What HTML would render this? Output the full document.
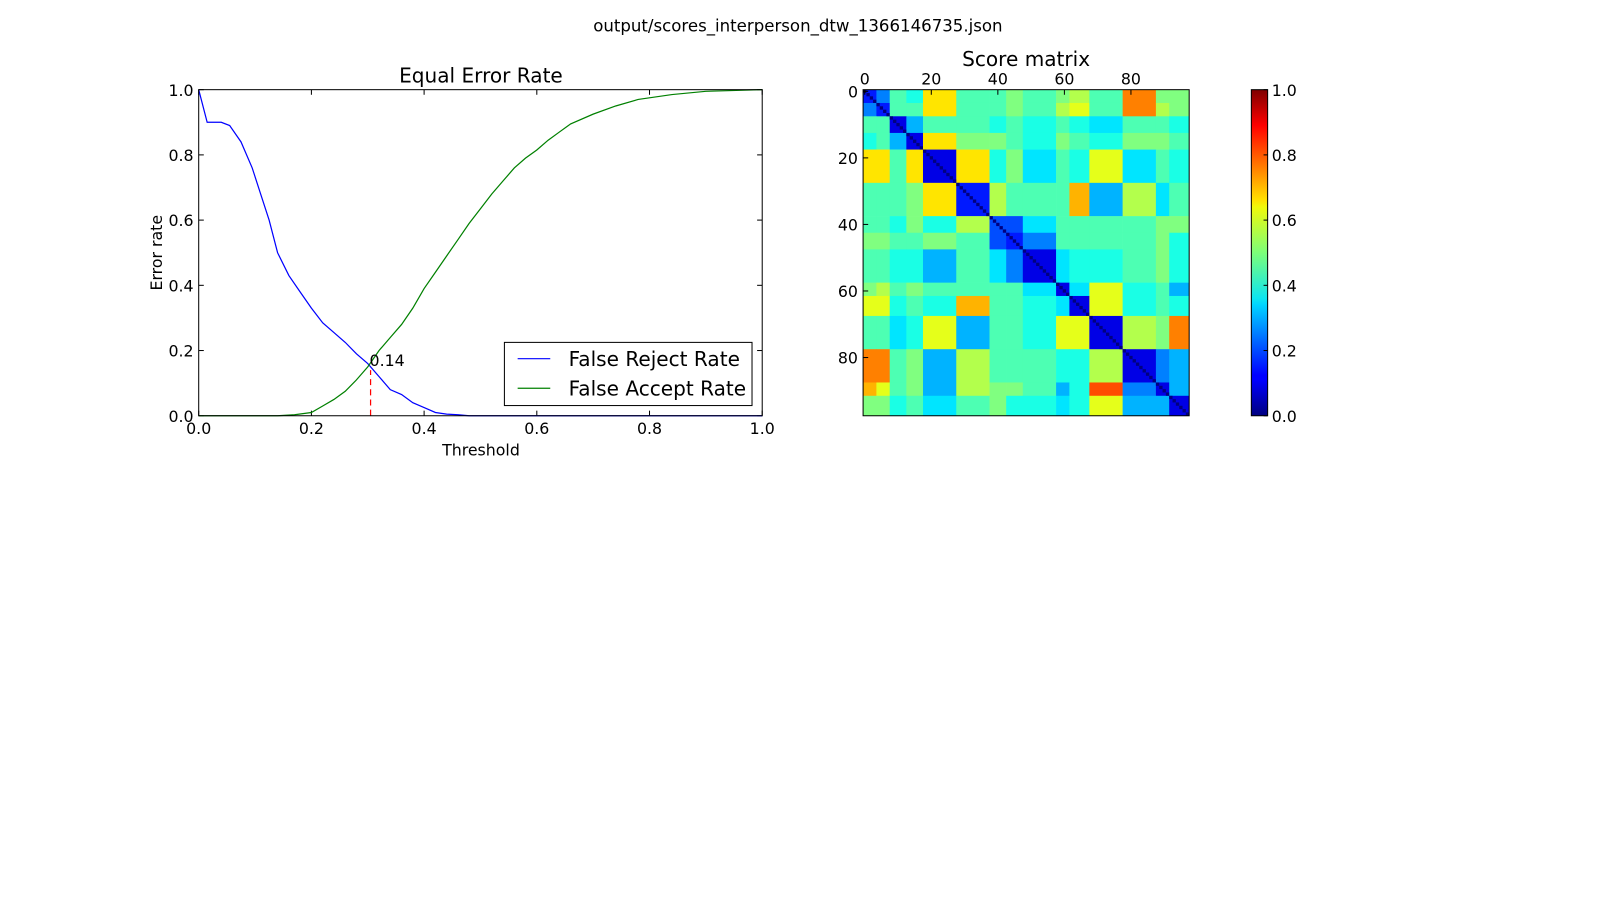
<!DOCTYPE html>
<html><head><meta charset="utf-8"><style>
body{margin:0;background:#fff;}
svg text{font-family:"DejaVu Sans","Liberation Sans",sans-serif;fill:#000;}
</style></head><body>
<svg width="1600" height="900" xmlns="http://www.w3.org/2000/svg">
<defs><linearGradient id="jet" x1="0" y1="1" x2="0" y2="0">
<stop offset="0" stop-color="#00007f"/><stop offset="0.11" stop-color="#0000ff"/><stop offset="0.125" stop-color="#0000ff"/><stop offset="0.34" stop-color="#00d4ff"/><stop offset="0.36" stop-color="#0de5f0"/><stop offset="0.5" stop-color="#7cff79"/><stop offset="0.64" stop-color="#f0f90a"/><stop offset="0.66" stop-color="#ffe200"/><stop offset="0.89" stop-color="#ff0000"/><stop offset="1" stop-color="#7f0000"/>
</linearGradient></defs>
<g transform="scale(1.019)">
<text x="783" y="31" text-anchor="middle" font-size="16.3">output/scores_interperson_dtw_1366146735.json</text>
<g id="left"></g>
<g id="right"></g>
<g id="cbar"></g>
</g>
</svg>
<script>
const thrTicks=[0,0.2,0.4,0.6,0.8,1.0];
const tickLabels=["0.0","0.2","0.4","0.6","0.8","1.0"];
const frrX=[0,0.015,0.04,0.055,0.075,0.095,0.11,0.125,0.14,0.16,0.18,0.2,0.22,0.24,0.26,0.28,0.3,0.32,0.34,0.36,0.38,0.4,0.42,0.44,0.46,0.48,1];
const frrY=[1,0.9,0.9,0.89,0.84,0.76,0.68,0.6,0.5,0.43,0.38,0.33,0.285,0.255,0.225,0.19,0.16,0.12,0.08,0.065,0.04,0.025,0.01,0.005,0.003,0,0];
const farX=[0,0.14,0.17,0.2,0.22,0.24,0.26,0.28,0.3,0.32,0.34,0.36,0.38,0.4,0.42,0.44,0.46,0.48,0.5,0.52,0.54,0.56,0.58,0.6,0.62,0.64,0.66,0.7,0.74,0.78,0.84,0.9,1];
const farY=[0,0,0.003,0.01,0.03,0.05,0.075,0.11,0.15,0.2,0.24,0.28,0.33,0.39,0.44,0.49,0.54,0.59,0.635,0.68,0.72,0.76,0.79,0.815,0.845,0.87,0.895,0.925,0.95,0.97,0.985,0.995,1];
const eerX=0.305, eerY=0.14;
const groupBounds=[0,4,8,13,18,28,38,43,48,58,62,68,78,88,92,98];
const blockVals=[
[.15,.25,.45,.4,.65,.45,.45,.5,.45,.5,.55,.45,.75,.5,.5],
[.25,.15,.45,.45,.65,.45,.45,.5,.45,.55,.6,.45,.75,.55,.5],
[.45,.45,.1,.3,.45,.45,.4,.45,.4,.45,.4,.35,.45,.45,.4],
[.4,.45,.3,.1,.65,.5,.5,.45,.4,.5,.45,.4,.5,.5,.45],
[.65,.65,.45,.65,.1,.65,.4,.5,.35,.45,.4,.6,.35,.45,.4],
[.45,.45,.45,.5,.65,.15,.55,.45,.45,.45,.7,.3,.55,.35,.45],
[.45,.45,.4,.5,.4,.55,.2,.2,.35,.45,.45,.45,.45,.5,.5],
[.5,.5,.45,.45,.5,.45,.2,.15,.25,.45,.45,.45,.45,.5,.4],
[.45,.45,.4,.4,.3,.45,.35,.25,.1,.35,.4,.4,.45,.5,.4],
[.5,.55,.45,.5,.45,.45,.45,.45,.35,.1,.35,.6,.4,.45,.3],
[.6,.6,.4,.45,.4,.7,.45,.45,.4,.35,.1,.6,.4,.45,.4],
[.45,.45,.35,.4,.6,.3,.45,.45,.4,.6,.6,.1,.55,.5,.75],
[.75,.75,.45,.5,.3,.55,.45,.45,.45,.4,.4,.55,.1,.25,.3],
[.7,.6,.45,.5,.3,.55,.5,.5,.45,.3,.4,.8,.25,.1,.3],
[.5,.5,.4,.45,.35,.45,.5,.4,.4,.35,.4,.6,.3,.3,.1]];
const matTicks=[0,20,40,60,80];
const NS="http://www.w3.org/2000/svg";
function mk(p,t,a,txt){const e=document.createElementNS(NS,t);for(const k in a)e.setAttribute(k,a[k]);if(txt!==undefined)e.textContent=txt;p.appendChild(e);return e;}
const L=document.getElementById('left');
const x0=195,x1=748,y0=408,y1=88;
const sx=v=>x0+(x1-x0)*v, sy=v=>y0-(y0-y1)*v;
thrTicks.forEach((t,i)=>{
 let e=mk(L,'line',{x1:sx(t),x2:sx(t),y1:y0,y2:y0-5,stroke:'#000'});
 mk(L,'line',{x1:sx(t),x2:sx(t),y1:y1,y2:y1+5,stroke:'#000'});
 e=mk(L,'text',{x:sx(t),y:y0+18,'text-anchor':'middle','font-size':15.5},tickLabels[i]);
 mk(L,'line',{x1:x0,x2:x0+5,y1:sy(t),y2:sy(t),stroke:'#000'});
 mk(L,'line',{x1:x1,x2:x1-5,y1:sy(t),y2:sy(t),stroke:'#000'});
 e=mk(L,'text',{x:x0-5,y:sy(t)+6,'text-anchor':'end','font-size':15.5},tickLabels[i]);
});
function path(xs,ys,c,name){const d=xs.map((v,i)=>(i?'L':'M')+sx(v).toFixed(1)+','+sy(ys[i]).toFixed(1)).join('');const e=mk(L,'path',{d:d,fill:'none',stroke:c,'stroke-width':1.2});}
path(frrX,frrY,'#0000ff','frr-line');
path(farX,farY,'#008000','far-line');
let e=mk(L,'line',{x1:sx(eerX),x2:sx(eerX),y1:y0,y2:sy(eerY),stroke:'#ff0000','stroke-dasharray':'6,4','stroke-width':1.2});
e=mk(L,'text',{x:sx(eerX)-1,y:sy(eerY)-4,'font-size':15.5},eerY.toFixed(2));
mk(L,'rect',{x:x0,y:y1,width:x1-x0,height:y0-y1,fill:'none',stroke:'#000'});
e=mk(L,'text',{x:472,y:81,'text-anchor':'middle','font-size':19.7},'Equal Error Rate');
e=mk(L,'text',{x:472,y:447,'text-anchor':'middle','font-size':15.5},'Threshold');
e=mk(L,'text',{x:159,y:248,'text-anchor':'middle','font-size':15.5,transform:'rotate(-90 159 248)'},'Error rate');
const lg=mk(L,'g',{});
mk(lg,'rect',{x:495,y:336,width:243,height:62,fill:'#fff',stroke:'#000'});
mk(lg,'line',{x1:508,x2:540,y1:352,y2:352,stroke:'#0000ff','stroke-width':1.2});
mk(lg,'text',{x:558,y:359,'font-size':19.7},'False Reject Rate');
mk(lg,'line',{x1:508,x2:540,y1:381,y2:381,stroke:'#008000','stroke-width':1.2});
mk(lg,'text',{x:558,y:388,'font-size':19.7},'False Accept Rate');
function jet(v){const r=Math.min(4*v-1.5,-4*v+4.5),g=Math.min(4*v-0.5,-4*v+3.5),b=Math.min(4*v+0.5,-4*v+2.5);const c=x=>Math.round(255*Math.max(0,Math.min(1,x)));return `rgb(${c(r)},${c(g)},${c(b)})`;}
const R=document.getElementById('right');
const hx=847,hy=88,hs=320,N=groupBounds[groupBounds.length-1],cs=hs/N;
for(let i=0;i<groupBounds.length-1;i++)for(let j=0;j<groupBounds.length-1;j++){
 e=mk(R,'rect',{x:hx+groupBounds[j]*cs,y:hy+groupBounds[i]*cs,width:(groupBounds[j+1]-groupBounds[j])*cs+0.3,height:(groupBounds[i+1]-groupBounds[i])*cs+0.3,fill:jet(blockVals[i][j])});
 
}
for(let k=0;k<N;k++){e=mk(R,'rect',{x:hx+k*cs,y:hy+k*cs,width:cs,height:cs,fill:jet(0)});}
mk(R,'rect',{x:hx,y:hy,width:hs,height:hs,fill:'none',stroke:'#000'});
matTicks.forEach(t=>{
 const p=hx+(t+0.5)*cs,q=hy+(t+0.5)*cs;
 mk(R,'line',{x1:p,x2:p,y1:hy,y2:hy+5,stroke:'#000'});
 e=mk(R,'text',{x:p,y:hy-5,'text-anchor':'middle','font-size':15.5},String(t));
 mk(R,'line',{x1:hx,x2:hx+5,y1:q,y2:q,stroke:'#000'});
 e=mk(R,'text',{x:hx-5,y:q+6,'text-anchor':'end','font-size':15.5},String(t));
});
e=mk(R,'text',{x:1007,y:65,'text-anchor':'middle','font-size':19.7},'Score matrix');
const C=document.getElementById('cbar');
mk(C,'rect',{x:1228,y:88,width:16,height:320,fill:'url(#jet)',stroke:'#000'});
thrTicks.forEach((t,i)=>{const y=408-320*t;
 mk(C,'line',{x1:1240,x2:1244,y1:y,y2:y,stroke:'#000'});
 e=mk(C,'text',{x:1248,y:y+6,'font-size':15.5},tickLabels[i]);});
</script>
</body></html>
